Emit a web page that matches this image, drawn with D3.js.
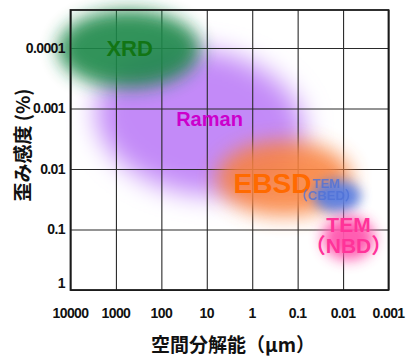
<!DOCTYPE html>
<html><head><meta charset="utf-8">
<script src="https://cdn.jsdelivr.net/npm/d3@7"></script>
<style>
html,body{margin:0;padding:0;background:#fff;}
svg{display:block;}
</style></head>
<body>
<div id="chart"></div>
<script>
// ---- data ----
const xTicks = [10000, 1000, 100, 10, 1, 0.1, 0.01, 0.001];
const xTickLabels = ["10000", "1000", "100", "10", "1", "0.1", "0.01", "0.001"];
const yTicks = [0.0001, 0.001, 0.01, 0.1, 1];
const yTickLabels = ["0.0001", "0.001", "0.01", "0.1", "1"];
const methods = ["XRD", "Raman", "EBSD", "TEM(CBED)", "TEM(NBD)"];
const methodLines = [["XRD"], ["Raman"], ["EBSD"], ["TEM", "（CBED）"], ["TEM", "（NBD）"]];
// spatial resolution range (µm) and strain sensitivity range (%) of each region
const resFrom = [18800, 2890, 6.0, 0.0459, 0.0284];
const resTo = [14.1, 0.0689, 0.0065, 0.00404, 0.00203];
const strainFrom = [2.35e-5, 1.08e-4, 0.0034, 0.0152, 0.0598];
const strainTo = [4.58e-4, 0.0259, 0.0600, 0.0514, 0.319];
// label anchor of each method
const labelRes = [500, 8.7, 0.358, 0.0232, 0.0076];
const labelStrain = [1.0e-4, 0.00149, 0.017, 0.0214, 0.121];
const xTitle = "空間分解能（μm）";
const yTitle = "歪み感度 (%)";

// ---- styles ----
const blobColor = ["#1b884a", "#c38af8", "#f9823e", "#5a7fe2", "#ff55ad"];
const blobOpacity = [0.9, 1, 0.88, 0.95, 0.95];
const blobBlur = [9, 13, 10, 6, 7];
const blobRotate = [0, 10, 0, 0, 0];
const belowGrid = [1];
const aboveGrid = [0, 2, 3, 4];
const textColor = ["#127514", "#cc00cc", "#ff6a00", "#4f72d8", "#ff3399"];
const textSize = [22, 20, 28, 13, 21];
const textOpacity = [1, 1, 1, 0.8, 1];

const W = 406, H = 356;
const mL = 70.5, mR = 388.5, mT = 10, mB = 290;

const svg = d3.select("#chart").append("svg").attr("width", W).attr("height", H);

const x = d3.scaleLog().domain([10000, 0.001]).range([mL, mR]);
const y = d3.scaleLog().domain([1, Math.pow(10, -4.628)]).range([mB, mT]);

const defs = svg.append("defs");
methods.forEach((m, i) => {
  defs.append("filter").attr("id", "blur" + i)
    .attr("x", "-100%").attr("y", "-100%").attr("width", "300%").attr("height", "300%")
    .append("feGaussianBlur").attr("stdDeviation", blobBlur[i]);
});

function drawBlobs(g, idx) {
  idx.forEach(i => {
    const x0 = x(resFrom[i]), x1 = x(resTo[i]);
    const y0 = y(strainFrom[i]), y1 = y(strainTo[i]);
    const cx = (x0 + x1) / 2, cy = (y0 + y1) / 2;
    g.append("ellipse")
      .attr("cx", cx).attr("cy", cy)
      .attr("rx", Math.abs(x1 - x0) / 2).attr("ry", Math.abs(y1 - y0) / 2)
      .attr("transform", `rotate(${blobRotate[i]},${cx},${cy})`)
      .attr("fill", blobColor[i])
      .attr("opacity", blobOpacity[i])
      .attr("filter", `url(#blur${i})`);
  });
}

drawBlobs(svg.append("g"), belowGrid);

// grid via axes
const gx = svg.append("g").attr("transform", `translate(0,${mB})`)
  .call(d3.axisBottom(x).tickValues(xTicks).tickSize(-(mB - mT)).tickFormat(""));
const gy = svg.append("g").attr("transform", `translate(${mL},0)`)
  .call(d3.axisLeft(y).tickValues(yTicks).tickSize(-(mR - mL)).tickFormat(""));
[gx, gy].forEach(g => {
  g.select(".domain").remove();
  g.selectAll(".tick line").attr("stroke", "#2a2a2a").attr("stroke-width", 1.1);
});

drawBlobs(svg.append("g"), aboveGrid);

// frame
svg.append("rect").attr("x", mL).attr("y", mT)
  .attr("width", mR - mL).attr("height", mB - mT)
  .attr("fill", "none").attr("stroke", "#1a1a1a").attr("stroke-width", 1.8);

// tick labels
const tickFont = "'Liberation Sans', Arial, sans-serif";
svg.append("g").selectAll("text").data(xTicks).join("text")
  .attr("x", d => x(d)).attr("y", 313)
  .attr("text-anchor", "middle").attr("dominant-baseline", "central")
  .attr("font-family", tickFont).attr("font-weight", "bold").attr("font-size", 14)
  .attr("letter-spacing", -0.6)
  .attr("fill", "#111")
  .text((d, i) => xTickLabels[i]);

svg.append("g").selectAll("text").data(yTicks).join("text")
  .attr("x", 65).attr("y", d => Math.min(y(d), mB - 7))
  .attr("text-anchor", "end").attr("dominant-baseline", "central")
  .attr("font-family", tickFont).attr("font-weight", "bold").attr("font-size", 14)
  .attr("letter-spacing", -0.6)
  .attr("fill", "#111")
  .text((d, i) => yTickLabels[i]);

// axis titles
const cjkFont = "'Noto Sans CJK JP', 'Noto Sans', sans-serif";
svg.append("text")
  .attr("x", 233).attr("y", 343)
  .attr("text-anchor", "middle").attr("dominant-baseline", "central")
  .attr("font-family", cjkFont).attr("font-weight", "bold").attr("font-size", 19)
  .attr("fill", "#111").text(xTitle);

svg.append("text")
  .attr("transform", `translate(21,145) rotate(-90)`)
  .attr("text-anchor", "middle").attr("dominant-baseline", "central")
  .attr("font-family", cjkFont).attr("font-weight", "bold").attr("font-size", 19)
  .attr("fill", "#111").text(yTitle);

// method labels
const gLab = svg.append("g");
methods.forEach((m, i) => {
  const lines = methodLines[i];
  const lh = textSize[i] * 0.98;
  const cx = x(labelRes[i]), cy = y(labelStrain[i]);
  const t = gLab.append("text")
    .attr("text-anchor", "middle").attr("dominant-baseline", "central")
    .attr("font-family", "'Liberation Sans', 'Noto Sans CJK JP', Arial, sans-serif")
    .attr("font-weight", "bold").attr("font-size", textSize[i])
    .attr("fill", textColor[i]).attr("opacity", textOpacity[i]);
  lines.forEach((ln, k) => {
    t.append("tspan").attr("x", cx)
      .attr("y", cy + (k - (lines.length - 1) / 2) * lh)
      .text(ln);
  });
});
</script>
</body></html>
